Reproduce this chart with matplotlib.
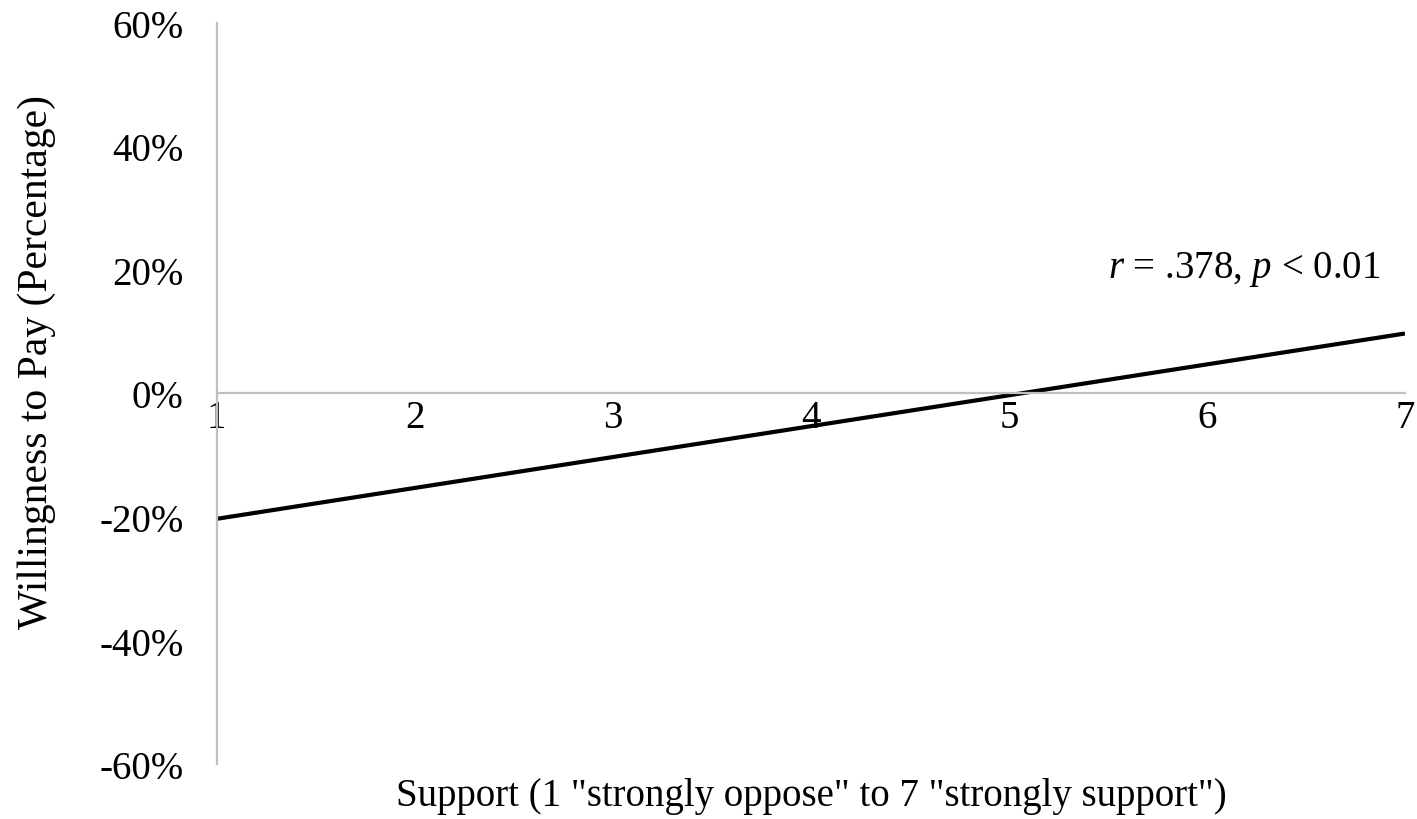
import numpy as np
import matplotlib.pyplot as plt
from matplotlib.ticker import PercentFormatter

# Línea de tendencia: disposición a pagar vs. apoyo
support = [1, 7]
wtp = [-20.3, 9.7]  # porcentaje

x_ticks = [1, 2, 3, 4, 5, 6, 7]
y_ticks = [-60, -40, -20, 0, 20, 40, 60]

plt.rcParams['font.family'] = ['Liberation Serif', 'DejaVu Serif']
plt.rcParams['axes.unicode_minus'] = False
plt.rcParams['mathtext.fontset'] = 'custom'
plt.rcParams['mathtext.rm'] = 'Liberation Serif'
plt.rcParams['mathtext.it'] = 'Liberation Serif:italic'

fig = plt.figure(figsize=(14.17, 8.2), dpi=100)
ax = fig.add_axes([0.153, 0.067, 0.8385, 0.904])

ax.plot(support, wtp, color='black', linewidth=3, solid_capstyle='butt')

ax.set_xlim(1, 7)
ax.set_ylim(-60, 60)
ax.set_xticks(x_ticks)
ax.set_yticks(y_ticks)
ax.yaxis.set_major_formatter(PercentFormatter(decimals=0))

gris = '#BFBFBF'
ax.spines['top'].set_visible(False)
ax.spines['right'].set_visible(False)
ax.spines['left'].set_color(gris)
ax.spines['left'].set_linewidth(1.6)
ax.spines['bottom'].set_position(('data', 0))
ax.spines['bottom'].set_color(gris)
ax.spines['bottom'].set_linewidth(1.6)

ax.tick_params(axis='both', length=0, labelsize=28)
ax.tick_params(axis='y', pad=24)
ax.tick_params(axis='x', pad=4)

ax.set_xlabel('Support (1 "strongly oppose" to 7 "strongly support")', fontsize=28)
ax.xaxis.set_label_coords(0.5, -0.017)
ax.set_ylabel('Willingness to Pay (Percentage)', fontsize=30)
ax.yaxis.set_label_coords(-0.135, 0.544)

ax.text(0.979, 0.668, r'$r$ = .378, $p$ < 0.01', transform=ax.transAxes,
        fontsize=28, ha='right', va='center')

fig.savefig('out.png', dpi=100)
